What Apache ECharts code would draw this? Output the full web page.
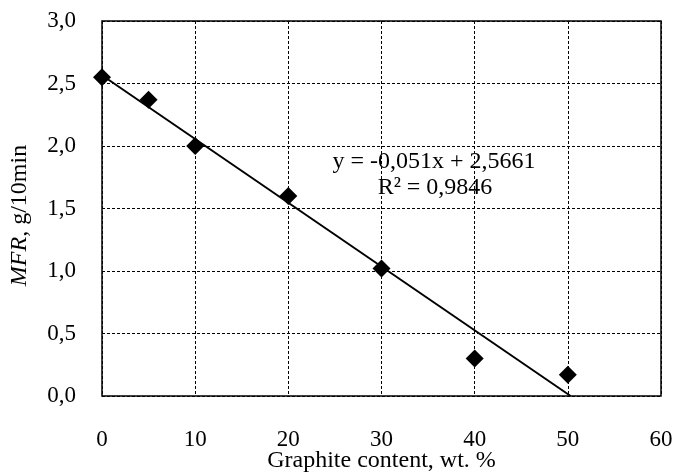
<!DOCTYPE html>
<html>
<head>
<meta charset="utf-8">
<script src="https://cdn.jsdelivr.net/npm/echarts@6/dist/echarts.min.js"></script>
<style>body{margin:0;background:#fff}</style>
</head>
<body>
<div id="main" style="width:675px;height:472px;"></div>
<script>
// measured points (graphite wt.%, MFR)
var graphite = [0, 5, 10, 20, 30, 40, 50];
var mfr = [2.55, 2.37, 2.0, 1.6, 1.02, 0.3, 0.17];
// linear trend line ends
var trendX = [0, 50.3];
var trendY = [2.566, 0];
var eqLines = ['y = -0,051x + 2,5661', 'R² = 0,9846'];

var font = '"Liberation Serif", "Times New Roman", serif';
var chart = echarts.init(document.getElementById('main'));

function comma(v) { return v.toFixed(1).replace('.', ','); }

chart.setOption({
    animation: false,
    grid: { left: 102, right: 14, top: 21, bottom: 76, outerBoundsMode: 'none',
        show: true, borderColor: '#000', borderWidth: 1.5 },
    xAxis: {
        type: 'value', min: 0, max: 60, interval: 10,
        name: 'Graphite content, wt. %', nameLocation: 'middle', nameGap: 65, nameMoveOverlap: false,
        nameTextStyle: { fontFamily: font, fontSize: 24, color: '#000', verticalAlign: 'middle' },
        axisLine: { show: false }, axisTick: { show: false },
        axisLabel: { margin: 32, fontFamily: font, fontSize: 23, color: '#000' },
        splitLine: { lineStyle: { color: '#000', type: [3, 2], width: 1 } }
    },
    yAxis: {
        type: 'value', min: 0, max: 3, interval: 0.5,
        name: '{i|MFR}, g/10min', nameLocation: 'middle', nameGap: 70, nameRotate: 90, nameMoveOverlap: false,
        nameTextStyle: { fontFamily: font, fontSize: 24, color: '#000', padding: [0, 0, 0, -14],
            rich: { i: { fontFamily: font, fontSize: 24, fontStyle: 'italic', color: '#000' } } },
        axisLine: { show: false }, axisTick: { show: false },
        axisLabel: { margin: 26, fontFamily: font, fontSize: 23, color: '#000', formatter: comma },
        splitLine: { lineStyle: { color: '#000', type: [3, 2], width: 1 } }
    },
    series: [
        {
            type: 'line', data: trendX.map(function (x, i) { return [x, trendY[i]]; }),
            showSymbol: false, lineStyle: { color: '#000', width: 2 }, z: 2
        },
        {
            type: 'scatter', data: graphite.map(function (x, i) { return [x, mfr[i]]; }),
            symbol: 'diamond', symbolSize: 18, itemStyle: { color: '#000', opacity: 1 }, z: 3
        }
    ],
    graphic: [
        { type: 'text', x: 434, y: 162, style: { text: eqLines[0], font: '24px ' + font, fill: '#000', align: 'center', verticalAlign: 'middle' } },
        { type: 'text', x: 435, y: 188, style: { text: eqLines[1], font: '24px ' + font, fill: '#000', align: 'center', verticalAlign: 'middle' } }
    ]
});
</script>
</body>
</html>
